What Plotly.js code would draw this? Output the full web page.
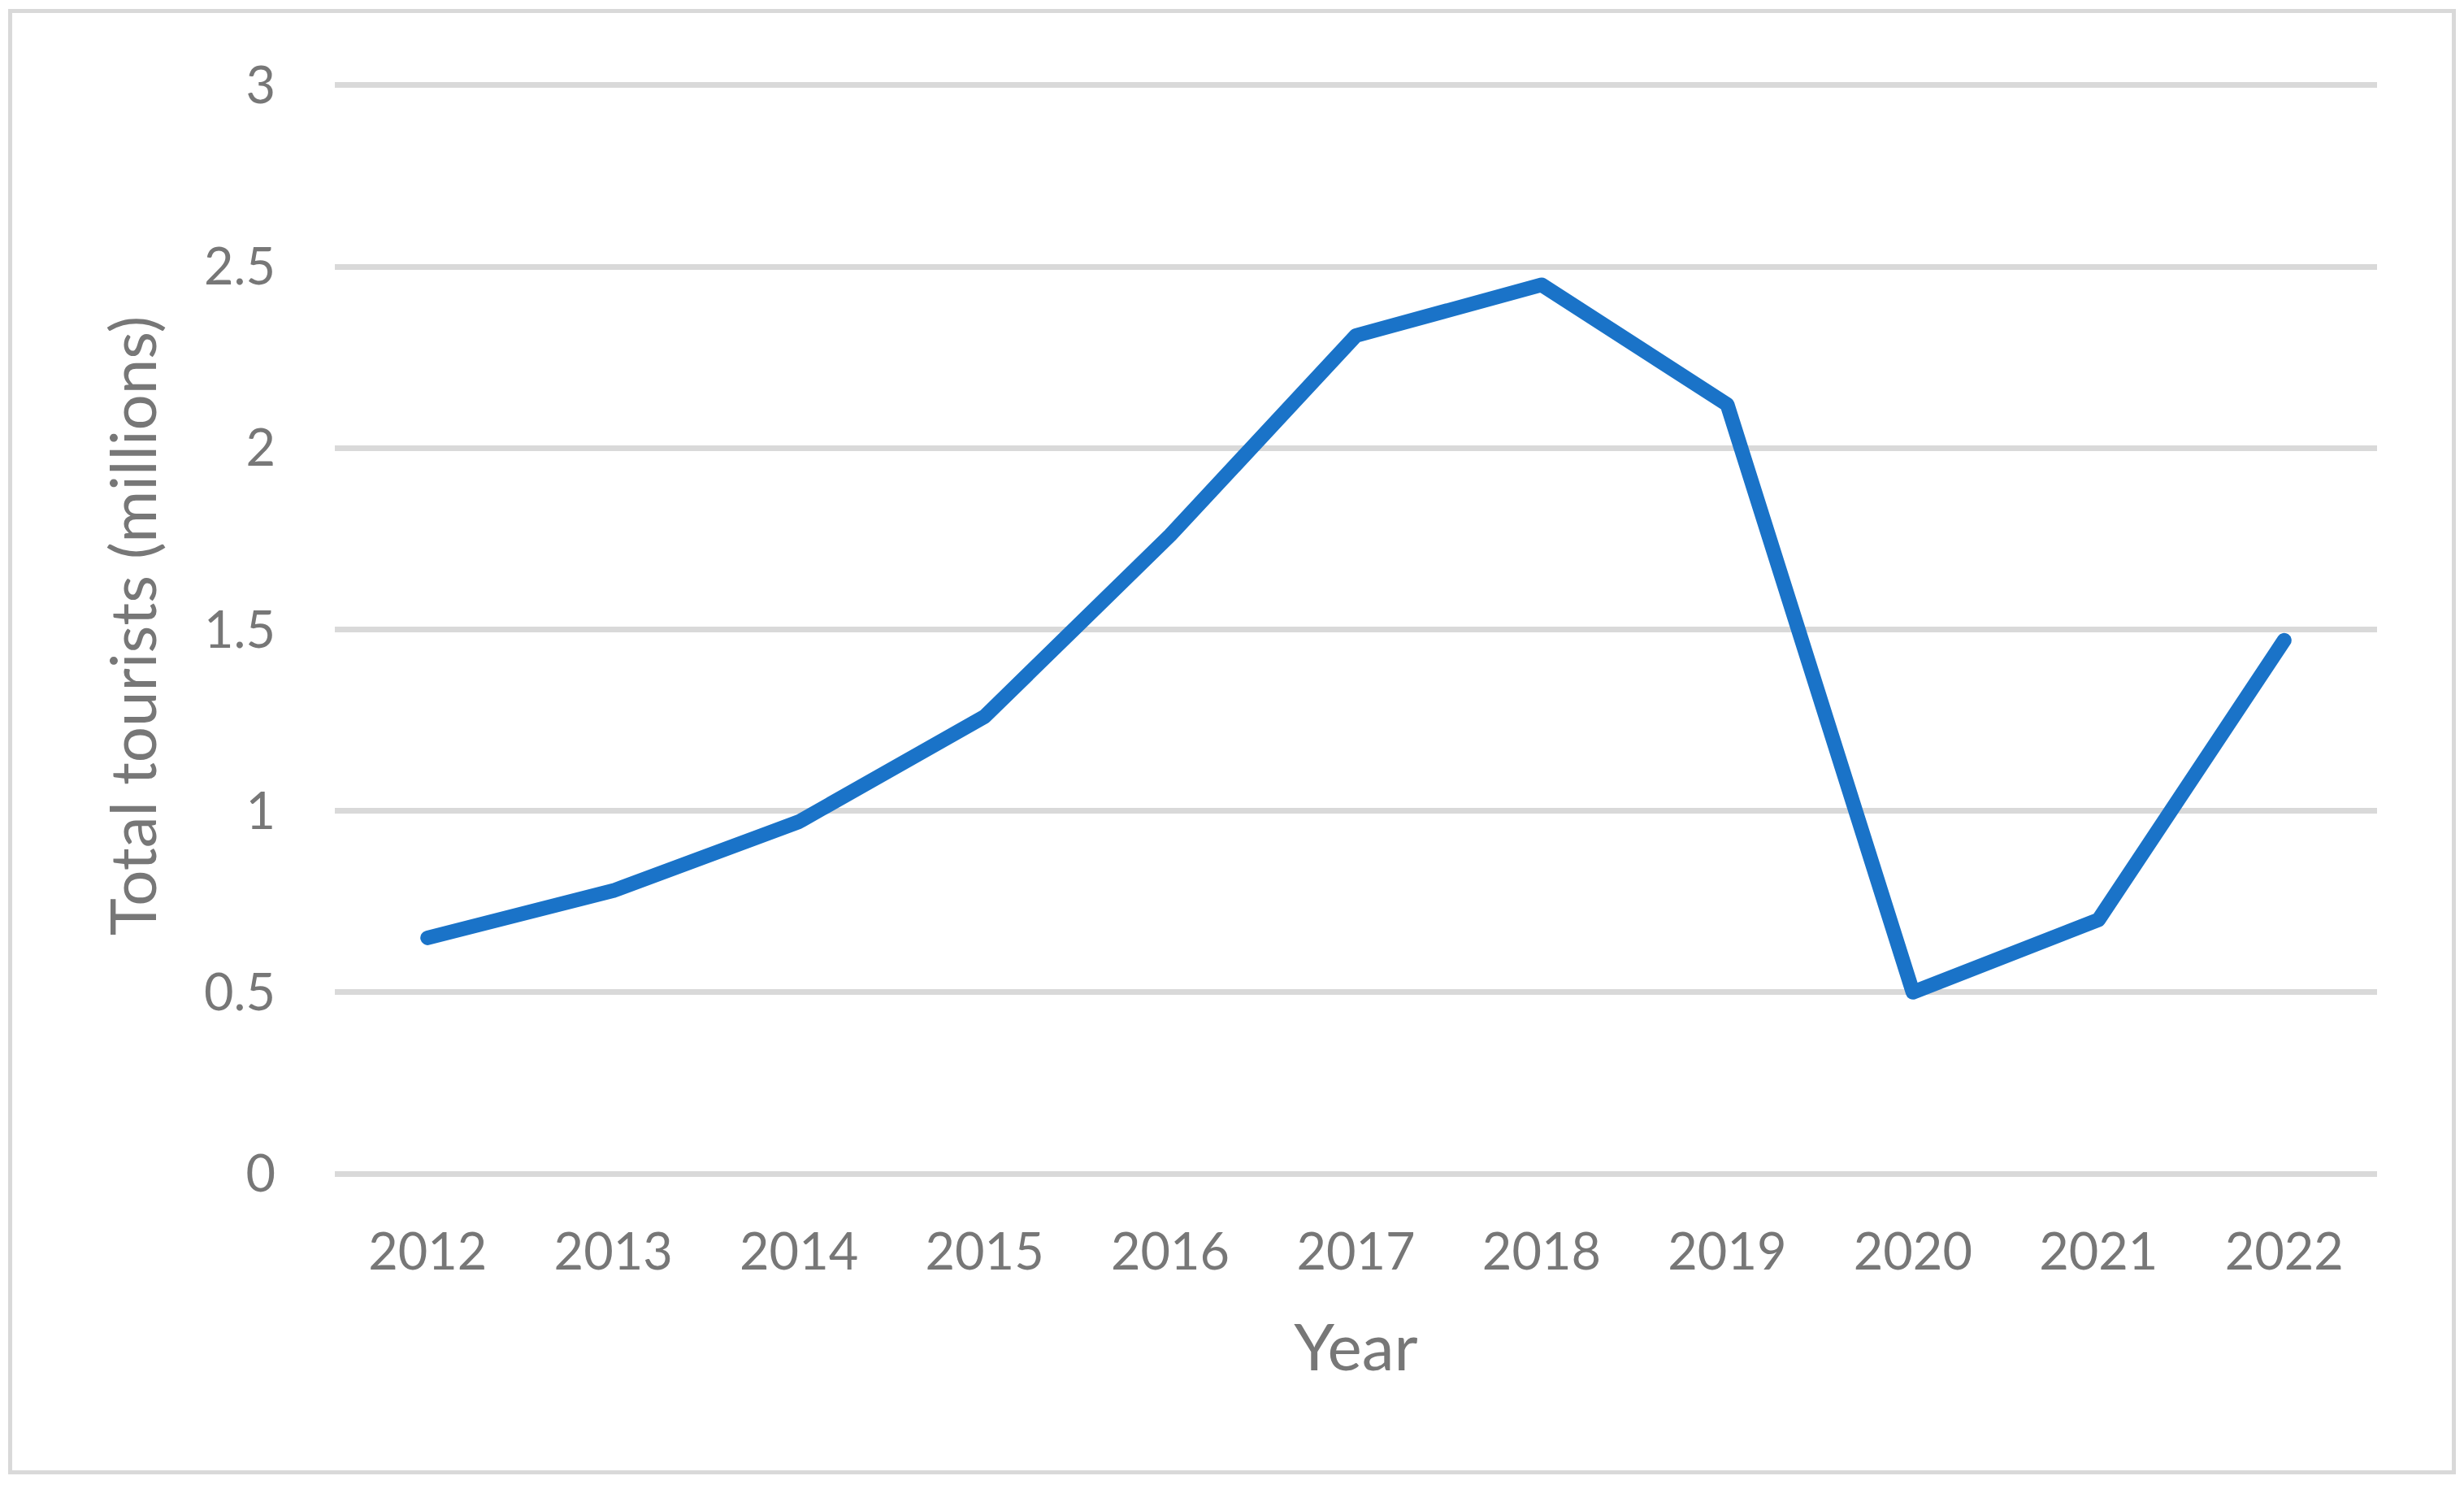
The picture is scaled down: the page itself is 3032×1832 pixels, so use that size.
<!DOCTYPE html>
<html>
<head>
<meta charset="utf-8">
<script src="https://cdn.plot.ly/plotly-3.0.1.min.js"></script>
<style>
  html, body { margin: 0; padding: 0; background: #ffffff; }
  #wrap { position: relative; width: 3032px; height: 1832px; overflow: hidden; }
  #chart { position: absolute; left: 0; top: 0; width: 3032px; height: 1832px; }
  #frame { position: absolute; left: 10px; top: 11px; width: 3012px; height: 1803px;
           border: 5px solid #d9d9d9; box-sizing: border-box; pointer-events: none; }
  path.js-line { stroke-linejoin: round !important; stroke-linecap: round !important; }
</style>
</head>
<body>
<div id="wrap">
  <div id="chart"></div>
  <div id="frame"></div>
</div>
<script>
const years = ["2012","2013","2014","2015","2016","2017","2018","2019","2020","2021","2022"];
const tourists = [0.65, 0.78, 0.97, 1.26, 1.76, 2.31, 2.45, 2.12, 0.50, 0.70, 1.47];
const yTicks = [0, 0.5, 1, 1.5, 2, 2.5, 3];
const yTickText = ["0", "0.5", "1", "1.5", "2", "2.5", "3"];
const xTitle = "Year";
const yTitle = "Total tourists (millions)";

const textColor = "#777777";
const gridColor = "#d9d9d9";
const fontFam = "Lato, 'Open Sans', sans-serif";

const trace = {
  type: "scatter",
  mode: "lines",
  x: years,
  y: tourists,
  line: { color: "#1A73C8", width: 18, shape: "linear" },
  hoverinfo: "skip"
};

const layout = {
  width: 3032,
  height: 1832,
  margin: { l: 412, r: 107, t: 96, b: 388 },
  paper_bgcolor: "#ffffff",
  plot_bgcolor: "#ffffff",
  showlegend: false,
  font: { family: fontFam, color: textColor, size: 62 },
  xaxis: {
    type: "category",
    range: [-0.5, years.length - 0.5],
    showgrid: false,
    zeroline: false,
    showline: false,
    ticks: "",
    ticklabelstandoff: 54,
    tickfont: { family: fontFam, size: 63, color: textColor },
    title: { text: xTitle, font: { family: fontFam, size: 80, color: textColor }, standoff: 55 }
  },
  yaxis: {
    range: [0, 3.02],
    tickvals: yTicks,
    ticktext: yTickText,
    showgrid: true,
    gridcolor: gridColor,
    gridwidth: 7,
    zeroline: true,
    zerolinecolor: gridColor,
    zerolinewidth: 7,
    showline: false,
    ticks: "",
    ticklabelstandoff: 72,
    tickfont: { family: fontFam, size: 63, color: textColor },
    title: { text: yTitle, font: { family: fontFam, size: 78, color: textColor }, standoff: 32 }
  }
};

Plotly.newPlot("chart", [trace], layout, { staticPlot: true, displayModeBar: false });
</script>
</body>
</html>
